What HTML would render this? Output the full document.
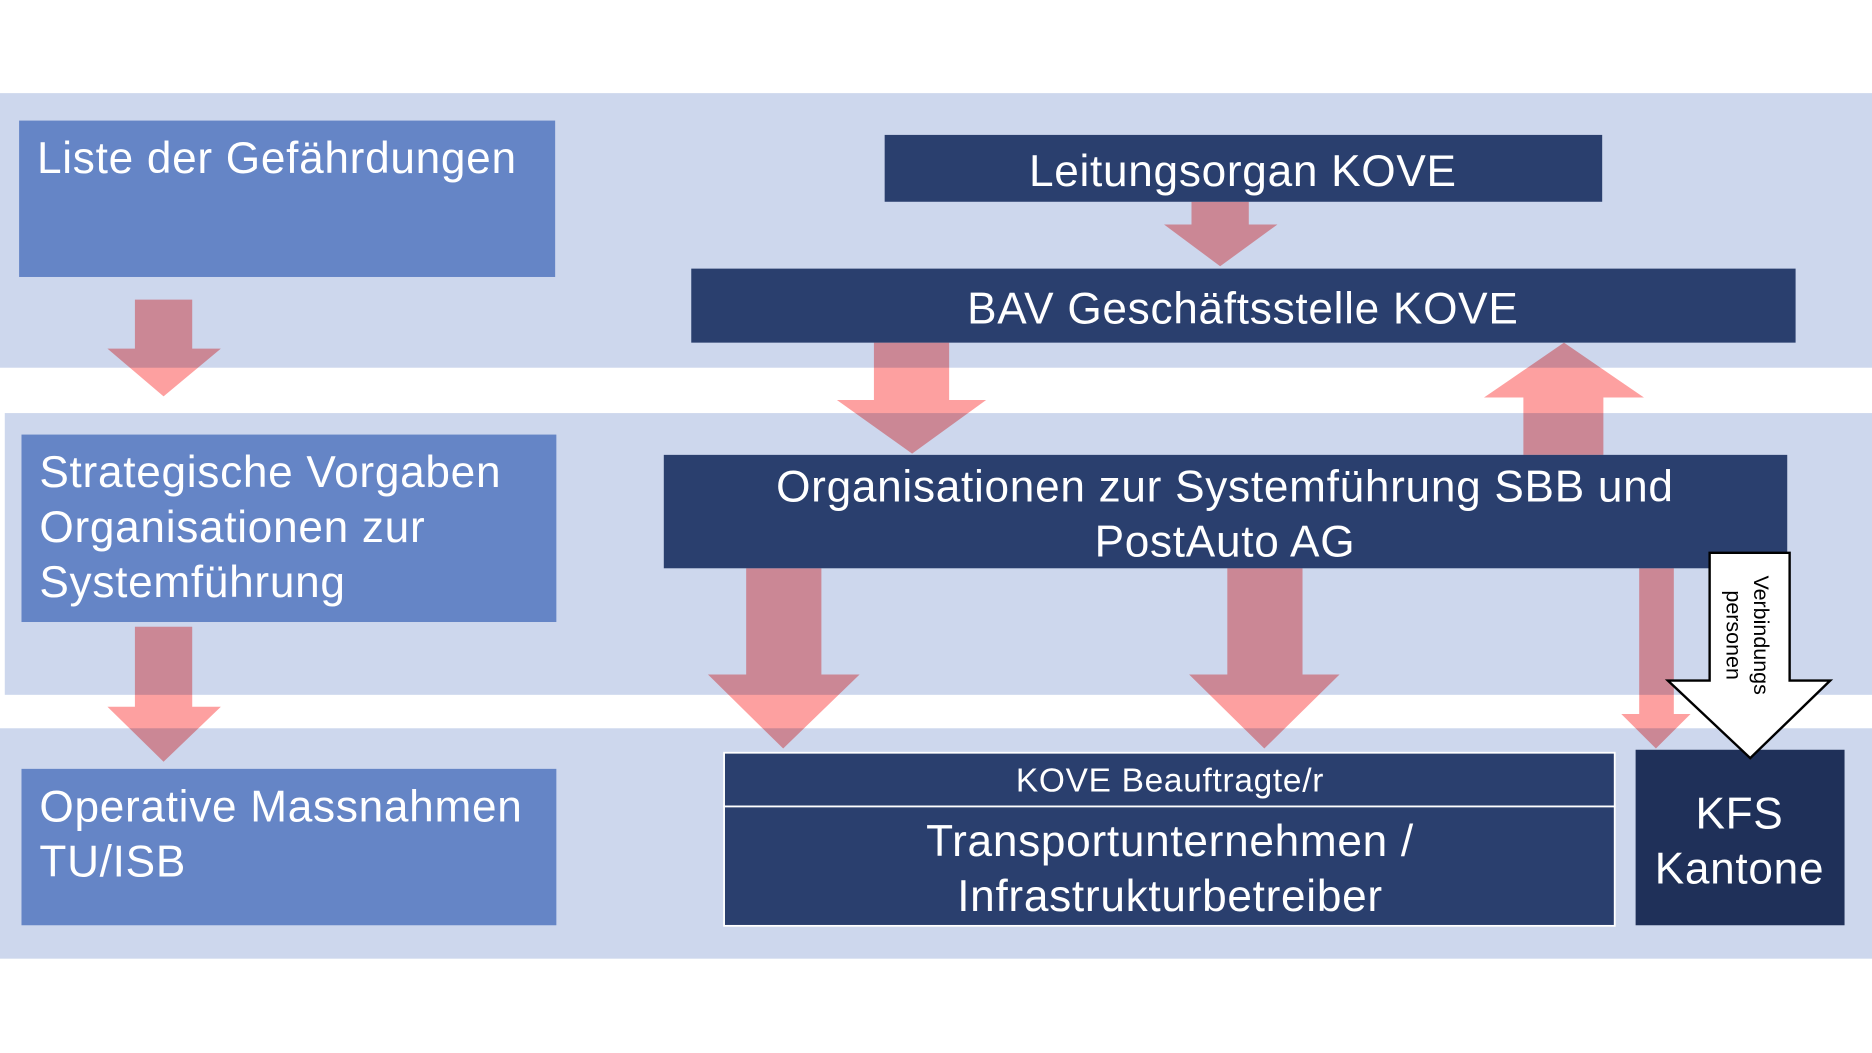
<!DOCTYPE html>
<html><head><meta charset="utf-8"><style>
html,body{margin:0;padding:0;background:#fff;}
svg{display:block;}
text{font-family:"Liberation Sans",sans-serif;fill:#fff;letter-spacing:0.6px;}
.a{fill:#fda0a0;mix-blend-mode:multiply;}
</style></head><body>
<svg width="1872" height="1053" viewBox="0 0 1568 882" preserveAspectRatio="none" xmlns="http://www.w3.org/2000/svg">
<rect x="0" y="0" width="1568" height="882" fill="#fff"/>
<rect x="0" y="78" width="1568" height="230" fill="#cdd7ed"/>
<rect x="4" y="346" width="1564" height="236" fill="#cdd7ed"/>
<rect x="0" y="610" width="1568" height="193" fill="#cdd7ed"/>
<g>
<polygon class="a" points="113,251 161,251 161,292 185,292 137,332 90,292 113,292"/>
<polygon class="a" points="113,525 161,525 161,592 185,592 137,638 90,592 113,592"/>
<polygon class="a" points="998,169 1046,169 1046,188 1070,188 1022,223 975,188 998,188"/>
<polygon class="a" points="732,287 795,287 795,335 826,335 764,380 701,335 732,335"/>
<polygon class="a" points="1310,287 1377,333 1343,333 1343,381 1276,381 1276,333 1243,333"/>
<polygon class="a" points="625,476 688,476 688,565 720,565 656,627 593,565 625,565"/>
<polygon class="a" points="1028,476 1091,476 1091,565 1122,565 1059,627 996,565 1028,565"/>
<polygon class="a" points="1373,476 1402,476 1402,598 1416,598 1387,627 1358,598 1373,598"/>
</g>
<rect x="16" y="101" width="449" height="131" fill="#6585c6"/>
<rect x="18" y="364" width="448" height="157" fill="#6585c6"/>
<rect x="18" y="644" width="448" height="131" fill="#6585c6"/>
<rect x="741" y="113" width="601" height="56" fill="#2a3f6e"/>
<rect x="579" y="225" width="925" height="62" fill="#2a3f6e"/>
<rect x="556" y="381" width="941" height="95" fill="#2a3f6e"/>
<rect x="606.5" y="630.5" width="746" height="45" fill="#2a3f6e" stroke="#fff" stroke-width="1.5"/>
<rect x="606.5" y="675.5" width="746" height="100" fill="#2a3f6e" stroke="#fff" stroke-width="1.5"/>
<rect x="1370" y="628" width="175" height="147" fill="#1f3059"/>
<polygon points="1432,463 1499,463 1499,570 1533,570 1466,635 1397,570 1432,570" fill="#fff" stroke="#000" stroke-width="2"/>
<g font-size="37">
<text x="31" y="145">Liste der Gefährdungen</text>
<text x="33" y="408">Strategische Vorgaben</text>
<text x="33" y="454">Organisationen zur</text>
<text x="33" y="500">Systemführung</text>
<text x="33" y="688">Operative Massnahmen</text>
<text x="33" y="734">TU/ISB</text>
</g>
<g text-anchor="middle" font-size="37">
<text x="1041" y="156">Leitungsorgan KOVE</text>
<text x="1041" y="271">BAV Geschäftsstelle KOVE</text>
<text x="1026" y="420">Organisationen zur Systemführung SBB und</text>
<text x="1026" y="466">PostAuto AG</text>
<text x="980" y="663" font-size="28">KOVE Beauftragte/r</text>
<text x="980" y="717">Transportunternehmen /</text>
<text x="980" y="763">Infrastrukturbetreiber</text>
<text x="1457" y="694">KFS</text>
<text x="1457" y="740">Kantone</text>
<text transform="translate(1469,532) rotate(90)" font-size="18" style="fill:#000;letter-spacing:0">Verbindungs</text>
<text transform="translate(1446,532) rotate(90)" font-size="18" style="fill:#000;letter-spacing:0">personen</text>
</g>
</svg>
</body></html>
